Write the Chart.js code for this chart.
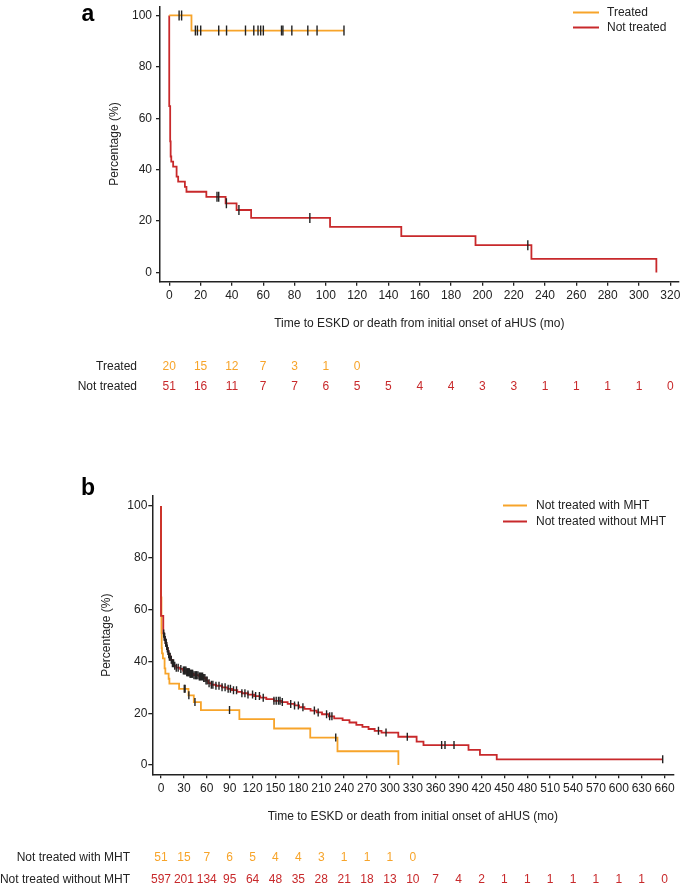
<!DOCTYPE html>
<html><head><meta charset="utf-8">
<script src="https://cdn.jsdelivr.net/npm/chart.js@4.4.1/dist/chart.umd.min.js"></script>
<style>
html,body{margin:0;padding:0;background:#fff;}
#wrap{position:relative;width:685px;height:889px;overflow:hidden;}
canvas{position:absolute;left:0;}
</style></head><body>
<div id="wrap">
<canvas id="ca" width="685" height="445" style="top:0;width:685px;height:445px"></canvas>
<canvas id="cb" width="685" height="444" style="top:445px;width:685px;height:444px"></canvas>
</div>
<script>
// ---------- DATA ----------
const xTicksA = [0,20,40,60,80,100,120,140,160,180,200,220,240,260,280,300,320];
const yTicks = [0,20,40,60,80,100];
const xTicksB = [0,30,60,90,120,150,180,210,240,270,300,330,360,390,420,450,480,510,540,570,600,630,660];

// Panel a: Treated
const treatedTimes = [0, 14.2, 111.6];
const treatedSurv  = [100, 94.1, 94.1];
const treatedCensor = [6.3, 7.9, 16.7, 18.0, 20.1, 31.6, 36.6, 48.7, 54.0, 56.7, 58.4, 60.1, 71.7, 72.6, 78.3, 88.5, 94.4, 111.6];

// Panel a: Not treated (also "Not treated with MHT" in panel b)
const notTreatedTimes = [0, 0, 0.6, 0.9, 1.3, 2.5, 4.7, 5.7, 10, 11, 23.7, 36, 43, 52.3, 102.7, 148.2, 195.6, 231.3, 311.1, 311.1];
const notTreatedSurv  = [100, 64.7, 51.0, 45.1, 43.1, 41.2, 37.3, 35.3, 33.3, 31.4, 29.4, 26.9, 24.3, 21.2, 17.7, 14.1, 10.6, 5.3, 5.3, 0];
const notTreatedCensor = [30.5, 31.6, 36.5, 44.5, 89.8, 229];

// Panel b: Not treated without MHT
const noMhtTimes = [0,0,3,4,5,6,7,8,9,10,11,13,15,17,20,25,29,33,38,43,50,56,59,62,66,72,80,87,93,100,106,114,122,130,138,148,158,166,175,181,188,196,204,211,220,227,238,247,256,264,272,280,289,311,335,344,403,418,440,657.5];
const noMhtSurv  = [100,57.6,50.8,49.5,48.3,47.2,46.0,45.0,44.0,42.8,41.8,40.6,39.3,38.3,37.6,37.1,36.5,35.8,35.2,34.7,34.2,33.6,32.6,31.6,31.0,30.6,30.0,29.4,28.9,28.2,27.7,27.2,26.6,26.0,25.4,24.8,24.3,23.6,23.0,22.3,21.7,21.0,20.3,19.6,18.8,18.0,17.3,16.4,15.5,14.7,13.9,13.2,12.5,10.9,9.0,7.7,5.8,3.9,2.2,2.2];
const noMhtCensor = [3.5,4.2,4.8,5.5,6.2,6.8,7.5,8.3,9.2,10.1,11,12,13.5,15,16.5,18,20,22.5,26,29.3,30.5,31.5,32.7,33.8,34.5,35.5,36.2,37.2,38,39,39.7,40.8,41.5,43.2,44.9,46,46.7,48.4,50.2,51.5,53,54.5,56,57.5,59,60.5,63,66,68,72,76,80,84,88,91,95,99,106,110,114,120,124,129,134,148,151,154,156,159,170,175,180,186,201,206,217,221,224,285,294.9,322.8,367.8,372.2,384,657.5];

// Numbers at risk
const riskTreated    = [20,15,12,7,3,1,0];
const riskNotTreated = [51,16,11,7,7,6,5,5,4,4,3,3,1,1,1,1,0];
const riskWithMHT    = [51,15,7,6,5,4,4,3,1,1,1,0];
const riskWithoutMHT = [597,201,134,95,64,48,35,28,21,18,13,10,7,4,2,1,1,1,1,1,1,1,0];

// ---------- STYLE ----------
const ORANGE = '#F7A42A';
const RED = '#C8292B';
const INK = '#222222';
const FAM = '"Liberation Sans", Arial, Helvetica, sans-serif';
Chart.defaults.font.family = FAM;
Chart.defaults.font.size = 12;
Chart.defaults.color = INK;

function toXY(ts, ss){ return ts.map((t,i)=>({x:t, y:ss[i]})); }
function survAt(ts, ss, t){ let v = ss[0]; for (let i=0;i<ts.length;i++){ if (ts[i] <= t) v = ss[i]; else break; } return v; }
function censorPts(c, ts, ss){ return c.map(t=>({x:t, y:survAt(ts, ss, t)})); }

function stepDs(label, data, color, order){
  return {label, data, borderColor: color, backgroundColor: color, borderWidth: 1.8, stepped: 'before',
          pointRadius: 0, pointHoverRadius: 0, fill: false, order, tension: 0};
}
function censorDs(data, r){
  return {label: 'censored', data, showLine: false, pointStyle: 'line', pointRotation: 90,
          pointRadius: r, pointHoverRadius: r, pointBorderColor: INK, pointBackgroundColor: INK,
          pointBorderWidth: 1.4, borderColor: INK, order: 0};
}

function xScale(min, max, ticks, height, titlePadBottom){
  return {type:'linear', min, max,
    afterBuildTicks: s => { s.ticks = ticks.map(v=>({value:v})); },
    afterFit: s => { s.height = height; s.paddingLeft = 0; s.paddingRight = 0; },
    ticks: {autoSkip:false, maxRotation:0, padding:3, color:INK, font:{size:12}},
    grid: {drawOnChartArea:false, drawTicks:true, tickLength:4, color:INK, lineWidth:1.3},
    border: {display:true, color:INK, width:1.5},
    title: {display:true, text:'Time to ESKD or death from initial onset of aHUS (mo)', color:INK,
            font:{size:12}, padding:{top:0, bottom:titlePadBottom}}
  };
}
function yScale(min, max, width, titlePadTop, tickPad){
  return {type:'linear', min, max,
    afterBuildTicks: s => { s.ticks = yTicks.map(v=>({value:v})); },
    afterFit: s => { s.width = width; s.paddingTop = 0; s.paddingBottom = 0; },
    ticks: {padding:tickPad, color:INK, font:{size:12}},
    grid: {drawOnChartArea:false, drawTicks:true, tickLength:4, color:INK, lineWidth:1.3},
    border: {display:true, color:INK, width:1.5},
    title: {display:true, text:'Percentage (%)', color:INK, font:{size:12}, padding:{top:titlePadTop, bottom:0}}
  };
}

function drawLegend(ctx, items, x0, x1, xt, ys){
  ctx.save();
  ctx.font = '12px ' + FAM; ctx.textBaseline = 'middle'; ctx.textAlign = 'left';
  items.forEach((it,i)=>{
    ctx.strokeStyle = it.color; ctx.lineWidth = 2;
    ctx.beginPath(); ctx.moveTo(x0, ys[i]); ctx.lineTo(x1, ys[i]); ctx.stroke();
    ctx.fillStyle = INK; ctx.fillText(it.text, xt, ys[i]);
  });
  ctx.restore();
}
function drawRisk(chart, rows, labelX){
  const ctx = chart.ctx, xs = chart.scales.x;
  ctx.save();
  ctx.font = '12px ' + FAM; ctx.textBaseline = 'middle';
  rows.forEach(r=>{
    ctx.textAlign = 'right'; ctx.fillStyle = INK; ctx.fillText(r.label, labelX, r.y);
    ctx.textAlign = 'center'; ctx.fillStyle = r.color;
    r.values.forEach((n,i)=> ctx.fillText(String(n), xs.getPixelForValue(r.times[i]), r.y));
  });
  ctx.restore();
}
function drawLetter(ctx, s, x, y){
  ctx.save(); ctx.font = 'bold 23px ' + FAM; ctx.fillStyle = '#000'; ctx.textAlign = 'center';
  ctx.textBaseline = 'alphabetic'; ctx.fillText(s, x, y); ctx.restore();
}

// ---------- PANEL A ----------
new Chart(document.getElementById('ca'), {
  type: 'line',
  data: { datasets: [
    censorDs(censorPts(treatedCensor, treatedTimes, treatedSurv), 5),
    censorDs(censorPts(notTreatedCensor, notTreatedTimes, notTreatedSurv), 5),
    stepDs('Treated', toXY(treatedTimes, treatedSurv), ORANGE, 1),
    stepDs('Not treated', toXY(notTreatedTimes, notTreatedSurv), RED, 2)
  ]},
  options: {
    responsive:false, animation:false, devicePixelRatio:1, events:[],
    layout: {padding:{top:3.3, right:3.3, left:0, bottom:0}},
    plugins: {legend:{display:false}, tooltip:{enabled:false}},
    scales: { x: xScale(-5.9, 325.3, xTicksA, 163.3, 113.8), y: yScale(-3.6, 103.5, 160, 107.3, 4) }
  },
  plugins: [{id:'extraA', afterDraw(chart){
    const ctx = chart.ctx;
    drawLetter(ctx, 'a', 88, 21);
    drawLegend(ctx, [{text:'Treated', color:ORANGE},{text:'Not treated', color:RED}], 573, 599, 607, [12.5, 27.5]);
    drawRisk(chart, [
      {label:'Treated', y:367, color:ORANGE, values:riskTreated, times:xTicksA},
      {label:'Not treated', y:387, color:RED, values:riskNotTreated, times:xTicksA}
    ], 137);
  }}]
});

// ---------- PANEL B ----------
new Chart(document.getElementById('cb'), {
  type: 'line',
  data: { datasets: [
    censorDs(censorPts(notTreatedCensor, notTreatedTimes, notTreatedSurv), 4),
    censorDs(censorPts(noMhtCensor, noMhtTimes, noMhtSurv), 4),
    stepDs('Not treated with MHT', toXY(notTreatedTimes, notTreatedSurv), ORANGE, 2),
    stepDs('Not treated without MHT', toXY(noMhtTimes, noMhtSurv), RED, 1)
  ]},
  options: {
    responsive:false, animation:false, devicePixelRatio:1, events:[],
    layout: {padding:{top:51, right:11.7, left:0, bottom:0}},
    plugins: {legend:{display:false}, tooltip:{enabled:false}},
    scales: { x: xScale(-11.4, 671.4, xTicksB, 114.7, 64.8), y: yScale(-3.6, 103.9, 152.3, 99.8, 1) }
  },
  plugins: [{id:'extraB', afterDraw(chart){
    const ctx = chart.ctx;
    drawLetter(ctx, 'b', 88, 50);
    drawLegend(ctx, [{text:'Not treated with MHT', color:ORANGE},{text:'Not treated without MHT', color:RED}], 503, 527, 536, [60.5, 76.5]);
    drawRisk(chart, [
      {label:'Not treated with MHT', y:413, color:ORANGE, values:riskWithMHT, times:xTicksB},
      {label:'Not treated without MHT', y:435, color:RED, values:riskWithoutMHT, times:xTicksB}
    ], 130);
  }}]
});
</script>
</body></html>
